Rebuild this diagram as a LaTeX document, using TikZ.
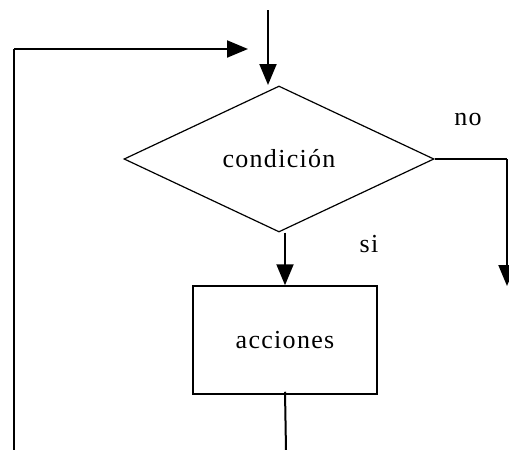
\documentclass[tikz,border=0pt]{standalone}
\usepackage{fontspec}
\setmainfont{Liberation Serif}
\usetikzlibrary{shapes.geometric,arrows.meta}
\begin{document}
\begin{tikzpicture}[x=1pt,y=-1pt,
  txt/.style={font=\fontsize{26}{28}\selectfont\addfontfeature{LetterSpace=5}},
  flow/.style={line width=2pt,-{Triangle[length=21pt,width=17pt]}},
  plain/.style={line width=2pt},
  decision/.style={draw,line width=1.2pt,shape=diamond,inner sep=0pt,minimum width=310pt,minimum height=146pt,txt},
  action/.style={draw,line width=1.5pt,rectangle,inner sep=0pt,minimum width=184pt,minimum height=108pt,txt},
  lab/.style={txt,anchor=base,inner sep=0pt}]
\useasboundingbox (0,0) rectangle (509,450);
\fill[white] (0,0) rectangle (509,450);
\coordinate (start) at (268,10);
\node[decision] (cond) at (279,159) {condición\hspace{6pt}};
\node[action] (acc) at (285,340) {acciones\hspace{6pt}};
\coordinate (loopbot) at (14,450);
\coordinate (looptop) at (14,49);
\coordinate (looptip) at (248,49);
\coordinate (noturn) at (507,159);
\coordinate (noend) at (507,286);
\coordinate (accend) at (286,450);
\draw[flow] (start) -- (268,85);
\draw[plain] (loopbot) -- (looptop);
\draw[flow] (looptop) -- (looptip);
\draw[line width=1.5pt] (cond.east) -- (noturn);
\draw[flow] (noturn) -- (noend);
\draw[flow] (cond.south -| acc.north) -- (acc.north);
\draw[plain] ([yshift=3pt]acc.south) -- (accend);
\node[lab] (no) at (468,125) {no};
\node[lab] (si) at (369,252) {si};
\end{tikzpicture}
\end{document}
